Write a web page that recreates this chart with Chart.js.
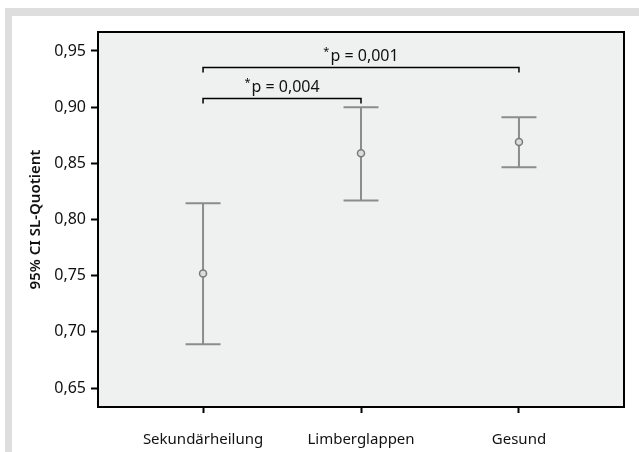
<!DOCTYPE html>
<html lang="de">
<head>
    <meta charset="UTF-8" />
    <title>95% CI SL-Quotient</title>
    <script src="https://cdn.jsdelivr.net/npm/chart.js@4.4.1/dist/chart.umd.min.js"></script>
    <style>
        body {
            margin: 0;
            background: #ffffff;
            font-family: "Noto Sans", Arial, sans-serif;
        }
        #frame {
            position: absolute;
            left: 5px;
            top: 8px;
            width: 627px;
            height: 436px;
            border-top: 8px solid #dedede;
            border-left: 7px solid #dedede;
        }
        #wrap {
            position: absolute;
            left: 0;
            top: 0;
            width: 639px;
            height: 452px;
        }
    </style>
</head>
<body>
    <div id="frame"></div>
    <div id="wrap"><canvas id="chart"></canvas></div>

    <script>
        // === Data ===
        const categories = ["Sekundärheilung", "Limberglappen", "Gesund"];
        const means = [0.752, 0.859, 0.869];
        const ciLow = [0.689, 0.817, 0.8465];
        const ciHigh = [0.8145, 0.900, 0.891];
        const yTicks = [0.65, 0.70, 0.75, 0.80, 0.85, 0.90, 0.95];

        // significance brackets
        const bracketFrom = [0, 0];
        const bracketTo = [1, 2];
        const bracketLevel = [0.908, 0.936];
        const bracketText = ["p = 0,004", "p = 0,001"];

        const FONT = "'Noto Sans', Arial, sans-serif";
        const BAR_COLOR = "#8c8c8c";

        // plot background + frame
        const framePlugin = {
            id: "frame",
            beforeDraw(chart) {
                const { ctx, chartArea: a } = chart;
                ctx.save();
                ctx.fillStyle = "#eff0f0";
                ctx.fillRect(a.left, a.top, a.right - a.left, a.bottom - a.top);
                ctx.restore();
            },
            afterDraw(chart) {
                const { ctx, chartArea: a } = chart;
                ctx.save();
                ctx.strokeStyle = "#000";
                ctx.lineWidth = 2;
                ctx.strokeRect(a.left, a.top, a.right - a.left, a.bottom - a.top);
                ctx.restore();
            }
        };

        // error bars (CI) drawn from the arrays through the scales
        const errorBarPlugin = {
            id: "errorBars",
            beforeDatasetsDraw(chart) {
                const { ctx, scales: { x, y } } = chart;
                ctx.save();
                ctx.strokeStyle = BAR_COLOR;
                ctx.lineWidth = 2;
                categories.forEach((c, i) => {
                    const px = x.getPixelForValue(i);
                    const yl = y.getPixelForValue(ciLow[i]);
                    const yh = y.getPixelForValue(ciHigh[i]);
                    ctx.beginPath();
                    ctx.moveTo(px, yl);
                    ctx.lineTo(px, yh);
                    ctx.moveTo(px - 17.5, yl);
                    ctx.lineTo(px + 17.5, yl);
                    ctx.moveTo(px - 17.5, yh);
                    ctx.lineTo(px + 17.5, yh);
                    ctx.stroke();
                });
                ctx.restore();
            }
        };

        // brackets with p-values
        const bracketPlugin = {
            id: "brackets",
            afterDatasetsDraw(chart) {
                const { ctx, scales: { x, y } } = chart;
                ctx.save();
                bracketLevel.forEach((lvl, i) => {
                    const x1 = x.getPixelForValue(bracketFrom[i]);
                    const x2 = x.getPixelForValue(bracketTo[i]);
                    const py = Math.round(y.getPixelForValue(lvl)) + 0.5;
                    ctx.strokeStyle = "#000";
                    ctx.lineWidth = 1.5;
                    ctx.beginPath();
                    ctx.moveTo(x1, py + 5);
                    ctx.lineTo(x1, py);
                    ctx.lineTo(x2, py);
                    ctx.lineTo(x2, py + 5);
                    ctx.stroke();

                    // "*p = ..." centred over the bracket
                    ctx.fillStyle = "#111";
                    ctx.textBaseline = "alphabetic";
                    ctx.font = "11px " + FONT;
                    const starW = ctx.measureText("*").width;
                    ctx.font = "16px " + FONT;
                    const txtW = ctx.measureText(bracketText[i]).width;
                    const start = (x1 + x2) / 2 - (starW + 1 + txtW) / 2;
                    ctx.font = "11px " + FONT;
                    ctx.fillText("*", start, py - 13);
                    ctx.font = "16px " + FONT;
                    ctx.fillText(bracketText[i], start + starW + 1, py - 7);
                });
                ctx.restore();
            }
        };

        const ctx = document.getElementById("chart").getContext("2d");
        new Chart(ctx, {
            type: "scatter",
            data: {
                datasets: [
                    {
                        label: "Mittelwert",
                        data: means.map((m, i) => ({ x: i, y: m })),
                        pointRadius: 3.5,
                        pointHoverRadius: 3.5,
                        pointBackgroundColor: "#dcdcdc",
                        pointBorderColor: "#7a7a7a",
                        pointBorderWidth: 1.5
                    }
                ]
            },
            options: {
                responsive: true,
                maintainAspectRatio: false,
                animation: false,
                layout: {
                    padding: { left: 0, top: 32, right: 15, bottom: 0 }
                },
                plugins: {
                    legend: { display: false },
                    tooltip: { enabled: false }
                },
                scales: {
                    x: {
                        type: "linear",
                        min: -0.665,
                        max: 2.665,
                        afterBuildTicks: (s) => {
                            s.ticks = categories.map((c, i) => ({ value: i }));
                        },
                        afterFit: (s) => { s.height = 45; },
                        border: { display: false },
                        grid: {
                            drawOnChartArea: false,
                            drawTicks: true,
                            tickLength: 6,
                            tickColor: "#000",
                            tickWidth: 2
                        },
                        ticks: {
                            padding: 18,
                            maxRotation: 0,
                            color: "#111",
                            font: { family: FONT, size: 15 },
                            callback: (v) => categories[v]
                        }
                    },
                    y: {
                        min: 0.6331,
                        max: 0.9669,
                        afterBuildTicks: (s) => {
                            s.ticks = yTicks.map((v) => ({ value: v }));
                        },
                        afterFit: (s) => { s.width = 98; },
                        border: { display: false },
                        grid: {
                            drawOnChartArea: false,
                            drawTicks: true,
                            tickLength: 7,
                            tickColor: "#000",
                            tickWidth: 2
                        },
                        ticks: {
                            padding: 5,
                            color: "#111",
                            font: { family: FONT, size: 16 },
                            callback: (v) => v.toFixed(2).replace(".", ",")
                        },
                        title: {
                            display: true,
                            text: "95% CI SL-Quotient",
                            color: "#111",
                            padding: { top: 27 },
                            font: { family: FONT, size: 15, weight: "600" }
                        }
                    }
                }
            },
            plugins: [framePlugin, errorBarPlugin, bracketPlugin]
        });
    </script>
</body>
</html>
